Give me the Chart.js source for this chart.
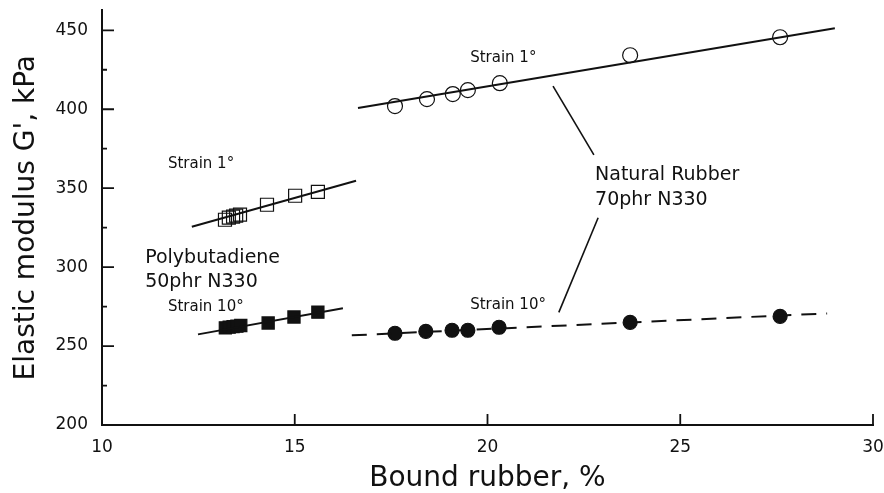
<!DOCTYPE html>
<html>
<head>
<meta charset="utf-8">
<script src="https://cdn.jsdelivr.net/npm/chart.js@4.4.1/dist/chart.umd.min.js"></script>
<style>
  html, body { margin: 0; padding: 0; background: #fff; }
  #wrap { width: 884px; height: 493px; }
</style>
</head>
<body>
<div id="wrap"><canvas id="chart" width="884" height="493"></canvas></div>
<script>
// Polybutadiene 50phr N330
const pbX1 = [13.19, 13.29, 13.40, 13.48, 13.58, 14.28, 15.01, 15.60];
const pbY1 = [330.0, 331.3, 332.0, 332.6, 333.2, 339.5, 345.2, 347.7];
const pbX10 = [13.20, 13.30, 13.40, 13.50, 13.60, 14.31, 14.98, 15.60];
const pbY10 = [261.5, 262.0, 262.3, 262.6, 263.0, 264.6, 268.4, 271.5];

// Natural Rubber 70phr N330
const nrX1 = [17.60, 18.43, 19.10, 19.49, 20.32, 23.70, 27.59];
const nrY1 = [402.0, 406.4, 409.6, 412.1, 416.5, 434.2, 445.6];
const nrX10 = [17.60, 18.40, 19.08, 19.49, 20.30, 23.70, 27.59];
const nrY10 = [258.1, 259.3, 260.0, 260.0, 261.9, 265.0, 268.8];

// fitted lines (end points)
const pbFit1X = [12.33, 16.59], pbFit1Y = [325.6, 354.7];
const pbFit10X = [12.49, 16.25], pbFit10Y = [257.4, 273.9];
const nrFit1X = [16.64, 29.01], nrFit1Y = [400.8, 451.3];
const nrFit10X = [16.48, 28.81], nrFit10Y = [256.8, 270.7];

// leader lines to the "Natural Rubber" label
const lead1X = [21.70, 22.76], lead1Y = [414.6, 371.1];
const lead2X = [22.87, 21.85], lead2Y = [331.3, 271.3];

// axis ticks
const xTicks = [10, 15, 20, 25, 30];
const yTicks = [200, 250, 300, 350, 400, 450];

// text notes inside the plot
const noteText = ['Strain 1°', 'Polybutadiene', '50phr N330', 'Strain 10°', 'Strain 1°', 'Natural Rubber', '70phr N330', 'Strain 10°'];
const noteX = [11.71, 11.12, 11.12, 11.71, 19.55, 22.79, 22.79, 19.55];
const noteY = [362.9, 302.3, 287.1, 272.0, 429.8, 355.3, 339.5, 273.2];
const noteSize = [15, 19, 19, 15, 15, 19, 19, 15];

const FONT = '"DejaVu Sans", "Liberation Sans", sans-serif';

function pts(xs, ys) {
    return xs.map((x, i) => ({ x: x, y: ys[i] }));
}

function markers(xs, ys, style, filled, r) {
    return {
        data: pts(xs, ys),
        showLine: false,
        pointStyle: style,
        pointRadius: r,
        pointHoverRadius: r,
        pointBorderWidth: 1.2,
        pointBorderColor: '#111',
        pointBackgroundColor: filled ? '#111' : 'rgba(0,0,0,0)'
    };
}

function fitLine(xs, ys, dash, width) {
    return {
        data: pts(xs, ys),
        showLine: true,
        borderColor: '#111',
        borderWidth: width,
        borderDash: dash,
        pointRadius: 0,
        pointHoverRadius: 0
    };
}

// ticks drawn inward, plus notes
const extras = {
    id: 'extras',
    afterDatasetsDraw(chart) {
        const c = chart.ctx;
        const xs = chart.scales.x, ys = chart.scales.y;
        c.save();
        c.strokeStyle = '#111';
        c.lineWidth = 1.8;
        c.beginPath();
        ys.ticks.forEach(t => {
            const py = ys.getPixelForValue(t.value);
            const len = t.value % 50 === 0 ? 12 : 5;
            c.moveTo(xs.left, py);
            c.lineTo(xs.left + len, py);
        });
        xTicks.forEach(v => {
            if (v === xTicks[0]) return;
            const px = xs.getPixelForValue(v);
            c.moveTo(px, ys.bottom);
            c.lineTo(px, ys.bottom - 11);
        });
        c.stroke();

        c.fillStyle = '#111';
        c.textBaseline = 'alphabetic';
        c.textAlign = 'left';
        noteText.forEach((s, i) => {
            c.font = noteSize[i] + 'px ' + FONT;
            c.fillText(s, xs.getPixelForValue(noteX[i]), ys.getPixelForValue(noteY[i]));
        });
        c.restore();
    }
};

new Chart(document.getElementById('chart'), {
    type: 'scatter',
    data: {
        datasets: [
            fitLine(pbFit1X, pbFit1Y, [], 2),
            fitLine(pbFit10X, pbFit10Y, [], 2),
            fitLine(nrFit1X, nrFit1Y, [], 2),
            fitLine(nrFit10X, nrFit10Y, [15, 10], 2),
            fitLine(lead1X, lead1Y, [], 1.6),
            fitLine(lead2X, lead2Y, [], 1.6),
            markers(pbX1, pbY1, 'rect', false, 9.2),
            markers(pbX10, pbY10, 'rect', true, 8.6),
            markers(nrX1, nrY1, 'circle', false, 7.5),
            markers(nrX10, nrY10, 'circle', true, 7)
        ]
    },
    options: {
        responsive: false,
        animation: false,
        events: [],
        layout: { padding: { left: 0, right: 11, top: 10, bottom: 0 } },
        plugins: { legend: { display: false }, tooltip: { enabled: false } },
        scales: {
            x: {
                type: 'linear',
                min: 10,
                max: 30,
                afterFit(s) { s.height = 68; s.paddingLeft = 0; s.paddingRight = 0; },
                afterBuildTicks(s) { s.ticks = xTicks.map(v => ({ value: v })); },
                grid: { display: false, drawTicks: false },
                border: { display: true, color: '#111', width: 2 },
                ticks: { color: '#111', padding: 12, font: { family: FONT, size: 17 } },
                title: {
                    display: true,
                    text: 'Bound rubber, %',
                    color: '#111',
                    font: { family: FONT, size: 28, lineHeight: 1 },
                    padding: { top: 0, bottom: 0 }
                }
            },
            y: {
                type: 'linear',
                min: 200,
                max: 462.6,
                afterFit(s) { s.width = 102; s.paddingTop = 0; s.paddingBottom = 0; },
                afterBuildTicks(s) {
                    const out = [];
                    for (let v = 200; v <= 450; v += 25) out.push({ value: v });
                    s.ticks = out;
                },
                grid: { display: false, drawTicks: false },
                border: { display: true, color: '#111', width: 2 },
                ticks: {
                    color: '#111',
                    padding: 14,
                    font: { family: FONT, size: 17 },
                    callback: v => (yTicks.includes(v) ? String(v) : '')
                },
                title: {
                    display: true,
                    text: "Elastic modulus G', kPa",
                    color: '#111',
                    font: { family: FONT, size: 28, lineHeight: 1 },
                    padding: { top: 13, bottom: 0 }
                }
            }
        }
    },
    plugins: [extras]
});
</script>
</body>
</html>
